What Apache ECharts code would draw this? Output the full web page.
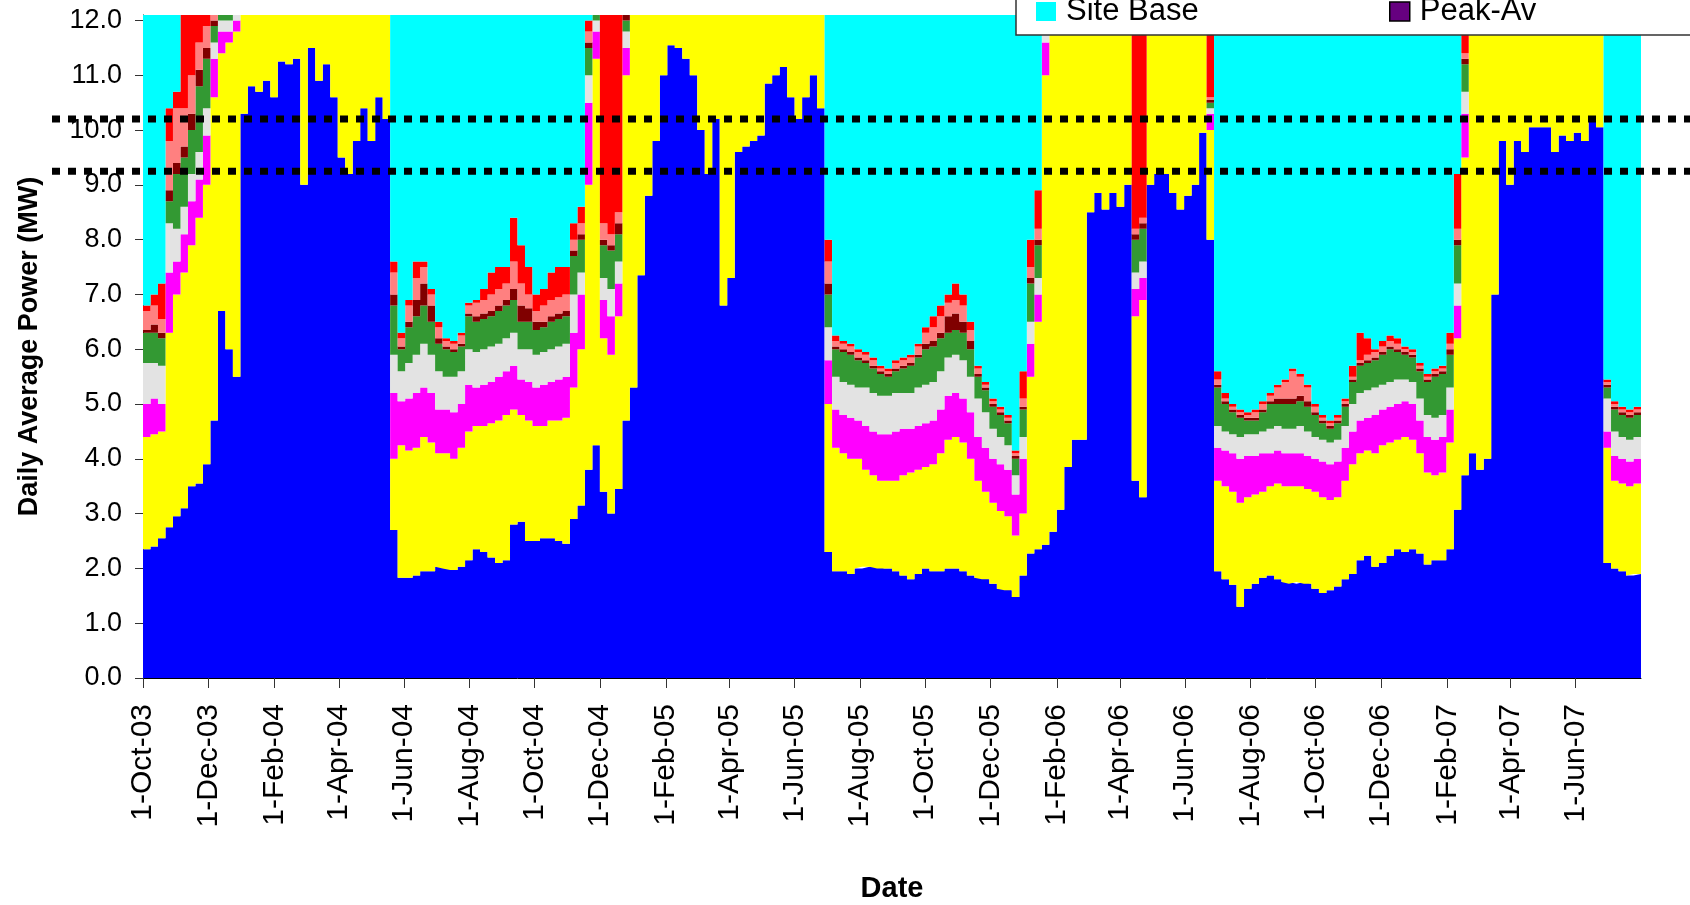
<!DOCTYPE html>
<html>
<head>
<meta charset="utf-8">
<title>Daily Average Power</title>
<script src="https://cdn.jsdelivr.net/npm/echarts@6/dist/echarts.min.js"></script>
<style>
html, body { margin: 0; padding: 0; background: #ffffff; }
#chart { width: 1690px; height: 905px; }
</style>
</head>
<body>
<div id="chart"></div>
<script>
// Weekly readings of daily average power (MW), one reading every 7 days from 1 Oct 2003
// (201 readings, the last one on 1 Aug 2007). Each array is one stacked band.
const firstReading = '2003-10-01';
const readingStepDays = 7;

const load1 = [
  2.35,2.4,2.55,2.75,2.95,3.1,3.5,3.55,3.9,4.7,6.7,6.0,5.5,
  10.3,10.8,10.7,10.9,10.6,11.25,11.2,11.3,9.0,11.5,10.9,11.2,10.6,9.5,9.2,9.8,10.4,9.8,10.6,10.2,
  2.7,1.83,1.83,1.87,1.95,1.95,2.03,2.0,1.97,2.03,2.15,2.35,2.3,2.2,2.1,2.15,2.8,2.85,2.5,2.5,2.55,2.55,2.5,2.45,2.9,3.15,
  3.8,4.25,3.4,3.0,3.45,4.7,
  5.3,7.35,8.8,9.8,11.0,11.55,11.5,11.3,11.0,10.0,9.2,10.2,6.8,7.3,9.6,9.7,9.8,9.9,10.85,11.0,11.15,10.6,10.2,10.6,11.0,10.4,
  2.3,1.95,1.95,1.9,2.0,2.03,2.03,2.0,2.0,1.95,1.87,1.8,1.9,2.0,1.95,1.95,2.0,2.0,1.95,1.87,1.83,1.8,1.72,1.63,1.6,1.48,1.87,2.27,2.35,2.43,
  2.67,3.07,3.85,4.35,4.35,8.5,8.85,8.55,8.85,8.6,9.0,3.6,3.3,9.0,9.2,9.2,8.85,8.55,8.8,9.0,9.95,8.0,
  1.95,1.8,1.7,1.3,1.63,1.72,1.83,1.87,1.8,1.75,1.72,1.75,1.72,1.63,1.55,1.6,1.67,1.8,1.9,2.15,2.23,2.03,2.1,2.23,2.35,2.3,2.35,2.27,2.07,2.15,2.15,2.35,3.07,3.7,
  4.1,3.8,4.0,7.0,9.8,9.0,9.8,9.6,10.05,10.05,10.05,9.6,9.9,9.8,9.95,9.8,10.2,10.05,
  2.1,2.0,1.95,1.87,1.9,1.9
];
const load2 = [
  2.05,2.05,1.95,3.55,4.05,4.3,4.4,4.85,5.1,5.9,4.7,5.6,6.3,
  2.2,1.7,1.8,1.6,1.9,1.25,1.3,1.2,3.5,1.0,1.6,1.3,1.9,3.0,3.3,2.7,2.1,2.7,1.9,2.3,
  1.3,2.42,2.32,2.33,2.45,2.35,2.07,2.1,2.03,2.17,2.35,2.25,2.3,2.45,2.6,2.65,2.1,1.95,2.2,2.1,2.05,2.15,2.2,2.3,2.4,2.85,
  5.2,7.05,2.8,2.9,3.15,6.3,
  7.2,5.15,3.7,2.7,1.5,0.95,1.0,1.2,1.5,2.5,3.3,2.3,5.7,5.2,2.9,2.8,2.7,2.6,1.65,1.5,1.35,1.9,2.3,1.9,1.5,2.1,
  2.7,2.25,2.15,2.1,2.0,1.77,1.67,1.6,1.6,1.65,1.83,1.95,1.9,1.85,1.95,2.15,2.35,2.4,2.35,2.13,1.77,1.6,1.48,1.42,1.35,1.12,1.13,3.23,4.15,8.57,
  9.83,9.43,8.65,8.15,8.15,4.0,3.65,3.95,3.65,3.9,3.5,3.0,3.6,3.5,3.3,3.3,3.65,3.95,3.7,3.5,2.55,2.0,
  1.65,1.7,1.7,1.9,1.67,1.63,1.57,1.63,1.75,1.75,1.78,1.75,1.73,1.77,1.75,1.65,1.63,1.8,2.0,1.95,1.92,2.07,2.15,2.07,2.0,2.1,2.0,1.83,1.68,1.55,1.6,1.95,3.13,5.8,
  8.4,8.7,8.5,5.5,2.7,3.5,2.7,2.9,2.45,2.45,2.45,2.9,2.6,2.7,2.55,2.7,2.3,2.45,
  2.1,1.6,1.6,1.63,1.65,1.65
];
const load3 = [
  0.6,0.65,0.5,1.1,0.6,0.7,0.8,0.7,0.9,0.7,0.4,0.2,0.2,
  0.5,0.5,0.5,0.5,0.5,0.5,0.5,0.5,0.5,0.5,0.5,0.5,0.5,0.5,0.5,0.5,0.5,0.5,0.5,0.5,
  1.2,0.8,0.95,1.0,0.9,0.9,0.8,0.8,0.85,0.8,0.85,0.7,0.75,0.75,0.8,0.8,0.8,0.65,0.7,0.7,0.75,0.7,0.75,0.75,1.0,1.0,
  1.5,0.5,0.7,0.7,0.6,0.5,
  0.5,0.5,0.5,0.5,0.5,0.5,0.5,0.5,0.5,0.5,0.5,0.5,0.5,0.5,0.5,0.5,0.5,0.5,0.5,0.5,0.5,0.5,0.5,0.5,0.5,0.5,
  0.8,0.7,0.7,0.75,0.7,0.8,0.8,0.85,0.85,0.9,0.85,0.8,0.8,0.8,0.8,0.8,0.8,0.8,0.8,0.85,0.8,0.8,0.8,0.85,0.85,0.75,1.0,0.6,0.5,0.6,
  0.5,0.5,0.5,0.5,0.5,0.5,0.5,0.5,0.5,0.5,0.5,0.5,0.4,0.5,0.5,0.5,0.5,0.5,0.5,0.5,0.5,0.3,
  0.6,0.65,0.7,0.8,0.75,0.7,0.7,0.6,0.6,0.6,0.6,0.6,0.6,0.6,0.65,0.65,0.65,0.6,0.6,0.6,0.6,0.7,0.65,0.65,0.65,0.65,0.65,0.6,0.65,0.65,0.65,0.6,0.6,0.8,
  0.5,0.5,0.5,0.5,0.5,0.5,0.5,0.5,0.5,0.5,0.5,0.5,0.5,0.5,0.5,0.5,0.5,0.5,
  0.3,0.45,0.45,0.45,0.45,0.45
];
const load4 = [
  0.75,0.65,0.7,0.9,0.6,0.5,0.5,0.5,0.5,0.3,0.2,0.2,0.2,
  0.4,0.4,0.4,0.4,0.4,0.4,0.4,0.4,0.4,0.4,0.4,0.4,0.4,0.4,0.4,0.4,0.4,0.4,0.4,0.4,
  0.7,0.55,0.65,0.7,0.8,0.7,0.7,0.6,0.65,0.6,0.65,0.65,0.65,0.65,0.6,0.6,0.6,0.55,0.6,0.6,0.6,0.6,0.6,0.6,0.7,0.4,
  0.5,0.2,0.4,0.5,0.4,0.3,
  0.4,0.4,0.4,0.4,0.4,0.4,0.4,0.4,0.4,0.4,0.4,0.4,0.4,0.4,0.4,0.4,0.4,0.4,0.4,0.4,0.4,0.4,0.4,0.4,0.4,0.4,
  0.6,0.6,0.6,0.6,0.6,0.7,0.7,0.7,0.7,0.7,0.65,0.65,0.7,0.7,0.7,0.7,0.7,0.7,0.7,0.65,0.7,0.65,0.55,0.5,0.45,0.35,0.4,0.4,0.3,0.2,
  0.4,0.4,0.4,0.4,0.4,0.4,0.4,0.4,0.4,0.4,0.4,0.3,0.3,0.4,0.4,0.4,0.4,0.4,0.4,0.4,0.4,0.1,
  0.4,0.35,0.35,0.4,0.4,0.4,0.4,0.45,0.45,0.45,0.45,0.5,0.45,0.4,0.4,0.4,0.4,0.4,0.5,0.5,0.5,0.5,0.45,0.45,0.45,0.4,0.4,0.4,0.4,0.4,0.4,0.4,0.4,0.4,
  0.4,0.4,0.4,0.4,0.4,0.4,0.4,0.4,0.4,0.4,0.4,0.4,0.4,0.4,0.4,0.4,0.4,0.4,
  0.6,0.45,0.4,0.4,0.4,0.4
];
const load5 = [
  0.55,0.55,0.5,0.4,1.0,0.9,0.8,1.2,0.9,0.3,0.2,0.2,0.2,
  0.4,0.4,0.4,0.4,0.4,0.4,0.4,0.4,0.4,0.4,0.4,0.4,0.4,0.4,0.4,0.4,0.4,0.4,0.4,0.4,
  0.9,0.4,0.65,0.7,0.7,0.6,0.5,0.5,0.45,0.45,0.6,0.55,0.55,0.55,0.6,0.6,0.6,0.5,0.5,0.45,0.45,0.5,0.5,0.5,0.7,0.6,
  0.5,0.2,0.6,0.7,0.5,0.2,
  0.4,0.4,0.4,0.4,0.4,0.4,0.4,0.4,0.4,0.4,0.4,0.4,0.4,0.4,0.4,0.4,0.4,0.4,0.4,0.4,0.4,0.4,0.4,0.4,0.4,0.4,
  0.6,0.5,0.55,0.55,0.5,0.45,0.45,0.4,0.35,0.4,0.45,0.5,0.55,0.65,0.65,0.6,0.45,0.45,0.5,0.5,0.4,0.4,0.4,0.4,0.4,0.3,0.5,0.7,0.6,0.2,
  0.4,0.4,0.4,0.4,0.4,0.4,0.4,0.4,0.4,0.4,0.4,0.6,0.6,0.4,0.4,0.4,0.4,0.4,0.4,0.4,0.4,0.1,
  0.7,0.5,0.4,0.35,0.25,0.25,0.35,0.45,0.4,0.45,0.45,0.45,0.45,0.4,0.3,0.25,0.3,0.35,0.4,0.5,0.5,0.5,0.55,0.6,0.5,0.45,0.45,0.5,0.6,0.75,0.75,0.6,0.7,0.5,
  0.4,0.4,0.4,0.4,0.4,0.4,0.4,0.4,0.4,0.4,0.4,0.4,0.4,0.4,0.4,0.4,0.4,0.4,
  0.2,0.4,0.4,0.4,0.4,0.4
];
const load6 = [
  0.05,0.15,0.1,0.2,0.2,0.2,0.3,0.3,0.2,0.1,0.1,0.1,0.1,
  0.1,0.1,0.1,0.1,0.1,0.1,0.1,0.1,0.1,0.1,0.1,0.1,0.1,0.1,0.1,0.1,0.1,0.1,0.1,0.1,
  0.2,0.05,0.1,0.3,0.4,0.3,0.1,0.05,0.05,0.05,0.05,0.1,0.1,0.1,0.1,0.1,0.2,0.3,0.25,0.15,0.1,0.1,0.1,0.1,0.1,0.1,
  0.1,0.1,0.1,0.1,0.2,0.1,
  0.1,0.1,0.1,0.1,0.1,0.1,0.1,0.1,0.1,0.1,0.1,0.1,0.1,0.1,0.1,0.1,0.1,0.1,0.1,0.1,0.1,0.1,0.1,0.1,0.1,0.1,
  0.2,0.05,0.05,0.05,0.05,0.05,0.05,0.05,0.05,0.05,0.05,0.05,0.05,0.1,0.1,0.1,0.3,0.3,0.2,0.15,0.05,0.05,0.05,0.05,0.05,0.05,0.05,0.1,0.1,0.1,
  0.1,0.1,0.1,0.1,0.1,0.1,0.1,0.1,0.1,0.1,0.1,0.1,0.1,0.1,0.1,0.1,0.1,0.1,0.1,0.1,0.1,0.05,
  0.05,0.05,0.05,0.05,0.05,0.05,0.05,0.05,0.1,0.1,0.1,0.1,0.1,0.05,0.05,0.05,0.05,0.05,0.05,0.05,0.05,0.05,0.05,0.05,0.05,0.05,0.05,0.05,0.05,0.05,0.05,0.1,0.1,0.1,
  0.1,0.1,0.1,0.1,0.1,0.1,0.1,0.1,0.1,0.1,0.1,0.1,0.1,0.1,0.1,0.1,0.1,0.1,
  0.05,0.05,0.05,0.05,0.05,0.05
];
const load7 = [
  0.35,0.35,0.25,0.9,1.0,0.7,0.7,0.5,0.4,0.2,0.1,0.1,0.1,
  0.2,0.2,0.2,0.2,0.2,0.2,0.2,0.2,0.2,0.2,0.2,0.2,0.2,0.2,0.2,0.2,0.2,0.2,0.2,0.2,
  0.4,0.15,0.3,0.4,0.3,0.2,0.2,0.1,0.1,0.15,0.15,0.25,0.25,0.3,0.3,0.3,0.5,0.4,0.25,0.2,0.3,0.3,0.3,0.3,0.2,0.2,
  0.2,0.1,0.3,0.2,0.2,0.1,
  0.2,0.2,0.2,0.2,0.2,0.2,0.2,0.2,0.2,0.2,0.2,0.2,0.2,0.2,0.2,0.2,0.2,0.2,0.2,0.2,0.2,0.2,0.2,0.2,0.2,0.2,
  0.4,0.1,0.1,0.1,0.1,0.1,0.1,0.05,0.05,0.1,0.1,0.1,0.15,0.2,0.25,0.3,0.25,0.25,0.3,0.2,0.1,0.05,0.05,0.05,0.05,0.05,0.15,0.2,0.2,0.1,
  0.2,0.2,0.2,0.2,0.2,0.2,0.2,0.2,0.2,0.2,0.2,0.1,0.1,0.2,0.2,0.2,0.2,0.2,0.2,0.2,0.2,0.05,
  0.1,0.05,0.05,0.05,0.05,0.1,0.1,0.1,0.2,0.3,0.5,0.35,0.25,0.1,0.05,0.05,0.05,0.05,0.05,0.05,0.1,0.1,0.1,0.1,0.1,0.05,0.05,0.05,0.05,0.05,0.05,0.1,0.2,0.1,
  0.2,0.2,0.2,0.2,0.2,0.2,0.2,0.2,0.2,0.2,0.2,0.2,0.2,0.2,0.2,0.2,0.2,0.2,
  0.05,0.05,0.05,0.05,0.05,0.05
];
const load8 = [
  0.1,0.2,0.65,0.6,0.3,1.8,1.3,0.7,0.4,0.1,0.1,0.1,0.1,
  0.1,0.1,0.1,0.1,0.1,0.1,0.1,0.1,0.1,0.1,0.1,0.1,0.1,0.1,0.1,0.1,0.1,0.1,0.1,0.1,
  0.2,0.1,0.1,0.3,0.1,0.1,0.1,0.05,0.05,0.05,0.05,0.05,0.2,0.4,0.4,0.3,0.8,0.7,0.5,0.3,0.3,0.5,0.55,0.5,0.3,0.3,
  0.2,0.1,4.0,4.2,3.8,0.1,
  0.1,0.1,0.1,0.1,0.1,0.1,0.1,0.1,0.1,0.1,0.1,0.1,0.1,0.1,0.1,0.1,0.1,0.1,0.1,0.1,0.1,0.1,0.1,0.1,0.1,0.1,
  0.4,0.1,0.05,0.05,0.05,0.05,0.05,0.05,0.05,0.05,0.05,0.05,0.05,0.1,0.2,0.2,0.15,0.3,0.2,0.15,0.05,0.05,0.05,0.05,0.05,0.05,0.5,0.5,0.7,0.2,
  0.1,0.1,0.1,0.1,0.1,0.1,0.1,0.1,0.1,0.1,0.1,4.1,3.9,0.1,0.1,0.1,0.1,0.1,0.1,0.1,0.1,2.0,
  0.15,0.1,0.05,0.05,0.05,0.05,0.05,0.05,0.05,0.05,0.05,0.05,0.05,0.05,0.05,0.05,0.05,0.05,0.2,0.5,0.3,0.05,0.1,0.1,0.1,0.05,0.05,0.05,0.05,0.05,0.05,0.2,1.0,0.9,
  0.1,0.1,0.1,0.1,0.1,0.1,0.1,0.1,0.1,0.1,0.1,0.1,0.1,0.1,0.1,0.1,0.1,0.1,
  0.05,0.05,0.05,0.05,0.05,0.05
];
const siteBase = [
  5.6,5.4,5.2,2.0,1.7,0.3,0.3,0.3,0.3,0.3,0.3,0.3,0.3,
  0.3,0.3,0.3,0.3,0.3,0.3,0.3,0.3,0.3,0.3,0.3,0.3,0.3,0.3,0.3,0.3,0.3,0.3,0.3,0.3,
  4.8,6.1,5.5,4.8,4.8,5.3,5.9,6.2,6.3,6.1,5.6,5.5,5.3,5.0,4.9,4.9,4.0,4.5,4.9,5.4,5.3,5.0,4.9,4.9,4.1,3.8,
  0.4,0.3,0.3,0.3,0.3,0.3,
  0.3,0.3,0.3,0.3,0.3,0.3,0.3,0.3,0.3,0.3,0.3,0.3,0.3,0.3,0.3,0.3,0.3,0.3,0.3,0.3,0.3,0.3,0.3,0.3,0.3,0.3,
  4.4,6.2,6.3,6.3,6.4,6.5,6.6,6.7,6.8,6.6,6.6,6.5,6.3,6.0,5.8,5.6,5.4,5.2,5.4,5.9,6.7,7.0,7.3,7.5,7.6,8.3,6.8,4.4,3.5,0.3,
  0.3,0.3,0.3,0.3,0.3,0.3,0.3,0.3,0.3,0.3,0.3,0.3,0.3,0.3,0.3,0.3,0.3,0.3,0.3,0.3,0.3,0.3,
  6.8,7.2,7.4,7.5,7.6,7.5,7.4,7.2,7.1,7.0,6.8,6.9,7.1,7.4,7.6,7.7,7.6,7.3,6.7,6.1,6.2,6.4,6.3,6.2,6.2,6.4,6.4,6.7,6.9,6.8,6.8,6.2,3.3,0.3,
  0.3,0.3,0.3,0.3,0.3,0.3,0.3,0.3,0.3,0.3,0.3,0.3,0.3,0.3,0.3,0.3,0.3,0.3,
  7.0,7.4,7.5,7.5,7.5,7.5
];
const peakAv = [];

// Reference levels drawn as dotted lines (MW)
const referenceLevels = [10.2, 9.25];

// Axis tick positions (first of every second month)
const tickDates = [
  '2003-10-01','2003-12-01','2004-02-01','2004-04-01','2004-06-01','2004-08-01',
  '2004-10-01','2004-12-01','2005-02-01','2005-04-01','2005-06-01','2005-08-01',
  '2005-10-01','2005-12-01','2006-02-01','2006-04-01','2006-06-01','2006-08-01',
  '2006-10-01','2006-12-01','2007-02-01','2007-04-01','2007-06-01'
];
const yTicks = [0,1,2,3,4,5,6,7,8,9,10,11,12];
const monthNames = ['Jan','Feb','Mar','Apr','May','Jun','Jul','Aug','Sep','Oct','Nov','Dec'];

const FONT = '"Liberation Sans", Arial, Helvetica, sans-serif';
const DAY_MS = 86400000;
const startMs = Date.parse(firstReading);
const readingTimes = load1.map((_, i) => startMs + i * readingStepDays * DAY_MS);
const axisStart = startMs;
const axisEnd = readingTimes[readingTimes.length - 1];
const tickMs = tickDates.map(s => Date.parse(s));

const bands = [
  { name: 'Load 1', values: load1, color: '#0000FF' },
  { name: 'Load 2', values: load2, color: '#FFFF00' },
  { name: 'Load 3', values: load3, color: '#FF00FF' },
  { name: 'Load 4', values: load4, color: '#E3E3E3' },
  { name: 'Load 5', values: load5, color: '#339933' },
  { name: 'Load 6', values: load6, color: '#800000' },
  { name: 'Load 7', values: load7, color: '#FF8080' },
  { name: 'Load 8', values: load8, color: '#FF0000' },
  { name: 'Site Base', values: siteBase, color: '#00FFFF' },
  { name: 'Peak-Av', values: peakAv, color: '#660080' }
];

// Bands are stacked on a time axis; a value axis over the same span carries the tick labels
const series = bands.map(b => ({
  name: b.name,
  type: 'line',
  xAxisIndex: 0,
  yAxisIndex: 0,
  stack: 'power',
  step: 'end',
  symbol: 'none',
  showSymbol: false,
  clip: true,
  silent: true,
  animation: false,
  data: b.values.map((v, i) => [readingTimes[i], v]),
  lineStyle: { width: 0 },
  itemStyle: { color: b.color },
  areaStyle: { color: b.color, opacity: 1 },
  z: 2
}));

function formatTick(v) {
  const d = new Date(v);
  return d.getUTCDate() + '-' + monthNames[d.getUTCMonth()] + '-' + String(d.getUTCFullYear()).slice(2);
}

const legendCommon = {
  top: -4,
  padding: 0,
  orient: 'horizontal',
  icon: 'rect',
  itemWidth: 20,
  itemHeight: 19,
  selectedMode: false,
  z: 20,
  itemStyle: { borderWidth: 0 },
  textStyle: { fontSize: 31, color: '#000', fontFamily: FONT, padding: [0, 0, 0, 5] }
};

const chart = echarts.init(document.getElementById('chart'), null, { renderer: 'canvas' });

chart.setOption({
  backgroundColor: '#ffffff',
  animation: false,
  textStyle: { fontFamily: FONT },
  grid: { left: 143, right: 49, top: 15, bottom: 227, containLabel: false, outerBoundsMode: 'none' },
  legend: [
    Object.assign({}, legendCommon, { left: 1036, data: [{ name: 'Site Base' }] }),
    Object.assign({}, legendCommon, {
      left: 1389,
      data: [{ name: 'Peak-Av', itemStyle: { borderColor: '#000', borderWidth: 1.5 } }]
    })
  ],
  xAxis: [
    {
      type: 'time',
      min: axisStart,
      max: axisEnd,
      position: 'bottom',
      axisLine: { show: false },
      axisTick: { show: false },
      axisLabel: { show: false },
      splitLine: { show: false }
    },
    {
      type: 'value',
      min: axisStart,
      max: axisEnd,
      position: 'bottom',
      offset: 0,
      name: 'Date',
      nameLocation: 'middle',
      nameGap: 196,
      nameTextStyle: { fontSize: 29, fontWeight: 'bold', color: '#000', fontFamily: FONT },
      axisLine: { show: true, onZero: false, lineStyle: { color: '#000', width: 1 } },
      axisTick: {
        show: true, length: 10, inside: false,
        customValues: tickMs,
        lineStyle: { color: '#333', width: 1 }
      },
      axisLabel: {
        customValues: tickMs,
        formatter: formatTick,
        rotate: 90,
        margin: 26,
        fontSize: 30,
        color: '#000',
        fontFamily: FONT
      },
      splitLine: { show: false }
    }
  ],
  yAxis: {
    type: 'value',
    min: 0,
    max: 12.1,
    interval: 1,
    name: 'Daily Average Power (MW)',
    nameLocation: 'middle',
    nameRotate: 90,
    nameGap: 100,
    nameTextStyle: { fontSize: 27, fontWeight: 'bold', color: '#000', fontFamily: FONT },
    axisLine: { show: true, lineStyle: { color: '#000', width: 1 } },
    axisTick: { show: true, length: 8, customValues: yTicks, lineStyle: { color: '#333', width: 1 } },
    axisLabel: {
      customValues: yTicks,
      formatter: v => Number(v).toFixed(1),
      margin: 21,
      fontSize: 27,
      color: '#000',
      fontFamily: FONT
    },
    splitLine: { show: false }
  },
  series: series
});

// Dotted reference lines and the legend frame, placed through the axis scale
const levelY = referenceLevels.map(v => chart.convertToPixel({ yAxisIndex: 0 }, v));
const graphics = levelY.map((y, i) => ({
  id: 'level' + i,
  type: 'line',
  z: 10,
  silent: true,
  shape: { x1: 52, y1: y, x2: 1690, y2: y },
  style: { stroke: '#000', lineWidth: 7, lineDash: [8, 8], lineCap: 'butt' }
}));
graphics.push({
  id: 'legendFrame',
  type: 'rect',
  z: 10,
  silent: true,
  shape: { x: 1016, y: -20, width: 700, height: 55 },
  style: { fill: '#ffffff', stroke: '#333', lineWidth: 1.5 }
});
chart.setOption({ graphic: graphics });
</script>
</body>
</html>
